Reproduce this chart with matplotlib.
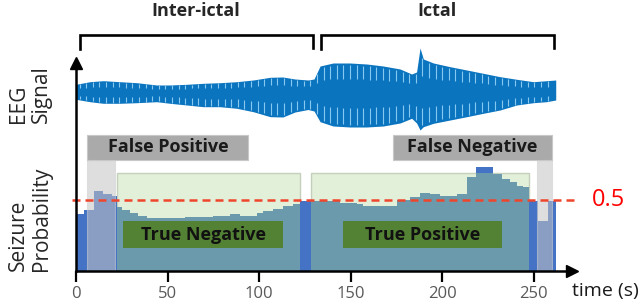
import numpy as np
import matplotlib.pyplot as plt
from matplotlib.patches import Rectangle

plt.rcParams['font.family'] = ['Open Sans', 'DejaVu Sans']

# EEG envelope (arbitrary units, centre = 0)
eeg_t = [0, 7.6, 14.9, 24, 33.2, 44.1, 51.3, 60.5, 69.5, 78.6,
         87.8, 96.8, 106, 113, 119.6, 126.7, 130, 133.3, 140.4, 149.6,
         158.8, 167.8, 177, 183.3, 186, 187.9, 189.7, 195.2, 204.3, 213.4,
         222.4, 231.6, 240.7, 249.8, 257, 262]
eeg_upper = [7.7, 10.3, 11.3, 10.3, 9.3, 7, 7, 7.7, 8.7, 9.3,
             10.3, 12, 14.7, 15, 13, 12, 13, 26, 29, 29,
             28, 26, 23, 18, 20, 44, 33, 29, 25.3, 22,
             18.7, 15.3, 12.7, 10.3, 11.3, 12]
eeg_lower = [-7.3, -9.7, -11.3, -11.3, -10.7, -9.7, -11.3, -13, -14.7, -14.7,
             -16.3, -19.7, -24.7, -25, -20, -17.5, -19, -29.7, -34, -35,
             -35, -34, -31, -26.3, -31, -38, -34.7, -31.3, -28, -24.7,
             -21.3, -18, -13, -10.7, -9.7, -8]

# seizure probability, step output of the detector
prob_edges = [0, 4.4, 9.8, 14.9, 19.5, 22.2, 25, 29.5, 34, 38.6,
              45, 54, 59.5, 67.7, 75, 84, 89.6, 98.7, 102.3, 107.8,
              113.2, 118.7, 122.3, 128.2, 144.2, 153.3, 156.9, 175.1, 182.4, 187.9,
              193.3, 198.8, 203.2, 207.9, 213.4, 218.3, 223.4, 227.9, 232.5, 237,
              240.7, 244.3, 247.6, 252.5, 258, 262.2]
prob_values = [0.40, 0.43, 0.56, 0.54, 0.53, 0.45, 0.43, 0.41, 0.39, 0.37,
               0.37, 0.37, 0.38, 0.38, 0.39, 0.40, 0.39, 0.41, 0.42, 0.44,
               0.46, 0.47, 0.49, 0.49, 0.48, 0.47, 0.46, 0.50, 0.52, 0.55,
               0.54, 0.53, 0.53, 0.54, 0.66, 0.73, 0.73, 0.68, 0.65, 0.63,
               0.60, 0.59, 0.49, 0.35, 0.49]
threshold = 0.5
xticks = [0, 50, 100, 150, 200, 250]

# annotated regions (seconds)
interictal = (2.2, 129.6)
ictal = (134, 261)
tn_span = (22.2, 122.3)
tp_span = (128.3, 247.6)
fp_span = (6.2, 21.3)
fn_span = (251.9, 260.1)
fp_box = (6.2, 94.1)
fn_box = (172.9, 260.1)
tn_box = (25.8, 113.2)
tp_box = (145.7, 232.5)

W, H = 640, 302
x0, x1 = 76, 572
px_per_s = 1.831


def fig_box(left, top, right, bottom):
    return [left / W, 1 - bottom / H, (right - left) / W, (bottom - top) / H]


fig = plt.figure(figsize=(6.4, 3.02), dpi=100)
xmax = (x1 - x0) / px_per_s

# --- EEG trace
ax_eeg = fig.add_axes(fig_box(x0, 0, x1, 140))
ax_eeg.set_xlim(0, xmax)
ax_eeg.set_ylim(-48, 92)
ax_eeg.axis('off')
ax_eeg.fill_between(eeg_t, eeg_lower, eeg_upper, color='#0b74bf', lw=0)
ts = np.arange(2, 261, 3.6)
up = np.interp(ts, eeg_t, eeg_upper)
lo = np.interp(ts, eeg_t, eeg_lower)
ax_eeg.vlines(ts, up * 0.45, up * 0.93, color='#86c9f0', lw=0.8)
ax_eeg.vlines(ts, lo * 0.93, lo * 0.45, color='#86c9f0', lw=0.8)

for (a, b), name in [(interictal, 'Inter-ictal'), (ictal, 'Ictal')]:
    ax_eeg.plot([a, a, b, b], [43, 57, 57, 44], color='k', lw=1.9,
                solid_joinstyle='miter', clip_on=False)
    ax_eeg.text((a + b) / 2 - 0.5, 81, name, ha='center', va='center',
                fontsize=13, fontweight='bold', color='#262626')

# --- probability panel
ax = fig.add_axes(fig_box(x0, 63, x1, 271))
ax.patch.set_visible(False)
ax.set_xlim(0, xmax)
ax.set_ylim(0, (271 - 63) / 142)

band_top = 0.69
lefts = prob_edges[:-1]
widths = np.diff(prob_edges)
ax.bar(lefts, prob_values, width=widths, align='edge', color='#4472c4',
       lw=0, zorder=2)
for span in (tn_span, tp_span):
    band = Rectangle((span[0], 0), span[1] - span[0], band_top,
                     fc='#e2efd9', ec='#c4cfbc', lw=1, zorder=1)
    ax.add_patch(band)
    clip = Rectangle((span[0], 0), span[1] - span[0], band_top,
                     transform=ax.transData)
    bars = ax.bar(lefts, prob_values, width=widths, align='edge',
                  color='#6a9aab', lw=0, zorder=3)
    for b in bars:
        b.set_clip_path(clip)

for span, box, name in [(fp_span, fp_box, 'False Positive'),
                        (fn_span, fn_box, 'False Negative')]:
    ax.add_patch(Rectangle((span[0], 0), span[1] - span[0], 0.785,
                           fc='#c4c4c4', alpha=0.55, ec='#d0d0d0', lw=0.8,
                           zorder=4))
    ax.add_patch(Rectangle((box[0], 0.785), box[1] - box[0], 0.175,
                           fc='#aaaaaa', ec='#c8c8c8', lw=0.8, zorder=5,
                           clip_on=False))
    ax.text((box[0] + box[1]) / 2, 0.872, name, ha='center', va='center',
            fontsize=13, fontweight='bold', color='#1a1a1a', zorder=6)

for box, name in [(tn_box, 'True Negative'), (tp_box, 'True Positive')]:
    ax.add_patch(Rectangle((box[0], 0.16), box[1] - box[0], 0.19,
                           fc='#548235', lw=0, zorder=5))
    ax.text((box[0] + box[1]) / 2, 0.255, name, ha='center', va='center',
            fontsize=13, fontweight='bold', color='#111111', zorder=6)

ax.plot([-2.3, 274], [threshold, threshold], ls=(0, (3.2, 2.0)), lw=1.8,
        color='#f0452d', clip_on=False, zorder=7)
ax.text(282, threshold, '0.5', color='#ff0000', fontsize=17,
        ha='left', va='center')

ax.spines[['top', 'right']].set_visible(False)
for s in ('left', 'bottom'):
    ax.spines[s].set_linewidth(1.8)
    ax.spines[s].set_zorder(8)
ax.set_yticks([])
ax.set_xticks(xticks)
ax.tick_params(axis='x', direction='out', length=8, width=1.6,
               labelsize=12, labelcolor='#595959', pad=3)
ax.plot(1, 0, '>', color='k', ms=9, transform=ax.transAxes, clip_on=False)
ax.plot(0, 1, '^', color='k', ms=9, transform=ax.transAxes, clip_on=False)

fig.text(572 / W, 1 - 291 / H, 'time (s)', ha='left', va='center',
         fontsize=14, color='#1a1a1a')
fig.text(30 / W, 1 - 123 / H, 'EEG\nSignal', rotation=90, ha='center',
         va='bottom', multialignment='left', fontsize=15, color='#262626',
         linespacing=1.1)
fig.text(30 / W, 1 - 271 / H, 'Seizure\nProbability', rotation=90,
         ha='center', va='bottom', multialignment='left', fontsize=15,
         color='#262626', linespacing=1.1)

fig.savefig('out.png', dpi=100)
